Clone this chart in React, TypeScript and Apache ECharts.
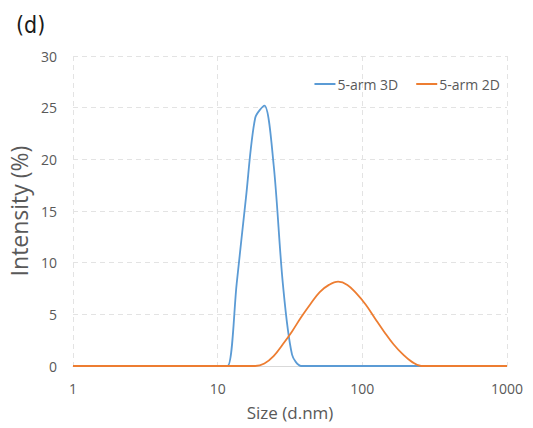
import React, { useEffect, useRef } from "react";
import * as echarts from "echarts";

const seriesNames = ["5-arm 3D", "5-arm 2D"];
const sizes3D = [1, 10.1, 11.7, 13.54, 15.69, 18.17, 21.04, 24.36, 28.21, 32.67, 37.84, 43.82, 1000];
const values3D = [0, 0, 0, 8.0, 16.3, 24.0, 25.2, 19.5, 8.0, 1.1, 0, 0, 0];
const sizes2D = [1, 15.69, 18.17, 21.04, 24.36, 28.21, 32.67, 37.84, 43.82, 50.75, 58.77, 68.06, 78.82, 91.28, 105.7, 122.4, 141.8, 164.2, 190.1, 220.2, 255.0, 295.3, 1000];
const values2D = [0, 0, 0, 0.24, 0.95, 2.1, 3.35, 4.74, 6.0, 7.15, 7.85, 8.16, 7.85, 7.0, 5.93, 4.6, 3.3, 2.1, 1.14, 0.4, 0, 0, 0];
const xTicks = [1, 10, 100, 1000];
const yTicks = [0, 5, 10, 15, 20, 25, 30];

const FONT = "'Open Sans', 'Noto Sans', sans-serif";
const GRAY = "#595959";

export default function App() {
  const ref = useRef<HTMLDivElement>(null);
  useEffect(() => {
    if (!ref.current) return;
    const chart = echarts.init(ref.current, undefined, { renderer: "svg" });
    chart.setOption({
      animation: false,
      backgroundColor: "#ffffff",
      title: {
        text: "(d)",
        left: 11,
        top: 8,
        textStyle: { fontFamily: "'Liberation Sans Narrow', 'DejaVu Sans Condensed', sans-serif", fontSize: 23, fontWeight: "normal", color: "#1a1a1a" },
      },
      legend: {
        data: seriesNames,
        right: 28,
        top: 72,
        icon: "rect",
        itemWidth: 21,
        itemHeight: 2,
        itemGap: 18,
        textStyle: { fontFamily: FONT, fontSize: 14, color: GRAY, padding: [0, 0, 0, -3] },
      },
      grid: { left: 73, right: 26, top: 56, bottom: 62, outerBoundsMode: "none", containLabel: false },
      xAxis: {
        type: "log",
        logBase: 10,
        min: xTicks[0],
        max: xTicks[xTicks.length - 1],
        name: "Size (d.nm)",
        nameLocation: "middle",
        nameGap: 38,
        nameTextStyle: { fontFamily: FONT, fontSize: 17, color: GRAY },
        axisLine: { lineStyle: { color: "#d9d9d9", width: 1 } },
        axisTick: { show: false },
        axisLabel: { fontFamily: FONT, fontSize: 14, color: GRAY, margin: 15, formatter: (v: number) => String(Math.round(v)) },
        splitLine: { show: true, lineStyle: { color: "#e3e3e3", type: [5, 4], width: 1 } },
      },
      yAxis: {
        type: "value",
        min: yTicks[0],
        max: yTicks[yTicks.length - 1],
        interval: 5,
        name: "Intensity (%)",
        nameLocation: "middle",
        nameGap: 42,
        nameRotate: 90,
        nameTextStyle: { fontFamily: FONT, fontSize: 23, color: GRAY },
        axisLine: { show: false },
        axisTick: { show: false },
        axisLabel: { fontFamily: FONT, fontSize: 14, color: GRAY, margin: 16 },
        splitLine: { show: true, lineStyle: { color: "#e3e3e3", type: [5, 4], width: 1 } },
      },
      series: [
        {
          name: seriesNames[0],
          type: "line",
          data: sizes3D.map((s, i) => [s, values3D[i]]),
          smooth: 0.3,
          showSymbol: false,
          lineStyle: { color: "#5B9BD5", width: 1.8 },
          itemStyle: { color: "#5B9BD5" },
        },
        {
          name: seriesNames[1],
          type: "line",
          data: sizes2D.map((s, i) => [s, values2D[i]]),
          smooth: 0.4,
          showSymbol: false,
          lineStyle: { color: "#ED7D31", width: 1.8 },
          itemStyle: { color: "#ED7D31" },
        },
      ],
    });
    return () => chart.dispose();
  }, []);
  return (
    <div style={{ position: "fixed", left: 0, top: 0, width: 533, height: 428, background: "#fff" }}>
      <div ref={ref} style={{ width: 533, height: 428 }} />
    </div>
  );
}
